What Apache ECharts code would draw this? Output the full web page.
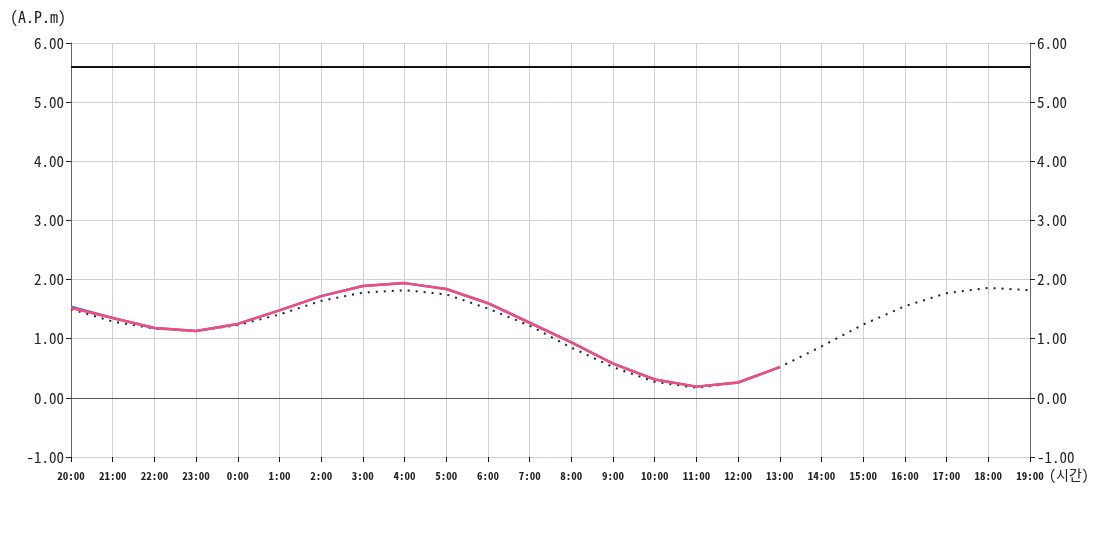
<!DOCTYPE html>
<html><head><meta charset="utf-8">
<script src="https://cdn.jsdelivr.net/npm/echarts@6/dist/echarts.min.js"></script>
<style>html,body{margin:0;padding:0;background:#fff}#c{width:1100px;height:550px}</style>
</head><body><div id="c"></div>
<script>
var categories = ['20:00','21:00','22:00','23:00','0:00','1:00','2:00','3:00','4:00','5:00','6:00','7:00','8:00','9:00','10:00','11:00','12:00','13:00','14:00','15:00','16:00','17:00','18:00','19:00'];
var blueValues = [1.54,1.35,1.18,1.13,1.25,1.48,1.72,1.89,1.94,1.84,1.60,1.27,0.94,0.58,0.31,0.19,0.26,0.52];
var pinkValues = [1.52,1.35,1.18,1.13,1.25,1.48,1.72,1.89,1.94,1.84,1.60,1.27,0.94,0.58,0.31,0.19,0.26,0.52];
var dottedValues = [1.50,1.29,1.17,1.13,1.23,1.41,1.64,1.78,1.82,1.75,1.51,1.22,0.85,0.52,0.27,0.17,0.26,0.52,0.87,1.24,1.55,1.77,1.86,1.82];
var limitValue = 5.6;
var yTicks = {min:-1, max:6, interval:1};
var yName = '(A.P.m)';
var xName = '(시간)';

var FONT = '"Noto Sans Mono CJK KR", "DejaVu Sans Mono", monospace';
var chart = echarts.init(document.getElementById('c'), null, {renderer:'canvas'});
function yAxisCfg(pos){
  return {
    type:'value', position:pos, min:yTicks.min, max:yTicks.max, interval:yTicks.interval,
    axisLine:{show:true, lineStyle:{color:'#666', width:1}},
    axisTick:{show:true, length:5, lineStyle:{color:'#222'}},
    axisLabel:{formatter:function(v){return v.toFixed(2);}, fontFamily:FONT, fontSize:15, color:'#222', margin:7},
    splitLine:{show: pos==='left', lineStyle:{color:'#d0d0d0', width:1}}
  };
}
chart.setOption({
  animation:false,
  grid:{left:71, right:70, top:43, bottom:93, containLabel:false},
  xAxis:{type:'category', data:categories, boundaryGap:false,
    axisLine:{show:false, onZero:false},
    axisTick:{show:true, length:5, inside:false, lineStyle:{color:'#111'}},
    axisLabel:{fontFamily:FONT, fontSize:11, fontWeight:'bold', color:'#222', margin:13, interval:0},
    splitLine:{show:true, lineStyle:{color:'#d0d0d0', width:1}}
  },
  yAxis:[yAxisCfg('left'), yAxisCfg('right')],
  graphic:[
    {type:'text', left:10, top:9, style:{text:yName, font:'16px '+FONT, fill:'#222'}},
    {type:'text', left:1049, top:468, style:{text:xName, font:'14px '+FONT, fill:'#222'}}
  ],
  series:[
    {type:'line', data:[], silent:true,
      markLine:{silent:true, symbol:'none', label:{show:false},
        data:[{yAxis:limitValue, lineStyle:{color:'#111', width:2, type:'solid'}},
              {yAxis:0, lineStyle:{color:'#555', width:1, type:'solid'}}]}},
    {type:'line', data:dottedValues, showSymbol:false, symbol:'none', z:2,
      lineStyle:{color:'#222', width:2, type:[2,6]}},
    {type:'line', data:blueValues, showSymbol:false, symbol:'none', z:3,
      lineStyle:{color:'#4a6cf0', width:2.5}},
    {type:'line', data:pinkValues, showSymbol:false, symbol:'none', z:4,
      lineStyle:{color:'#f24d7c', width:2.5}}
  ]
});
</script></body></html>
